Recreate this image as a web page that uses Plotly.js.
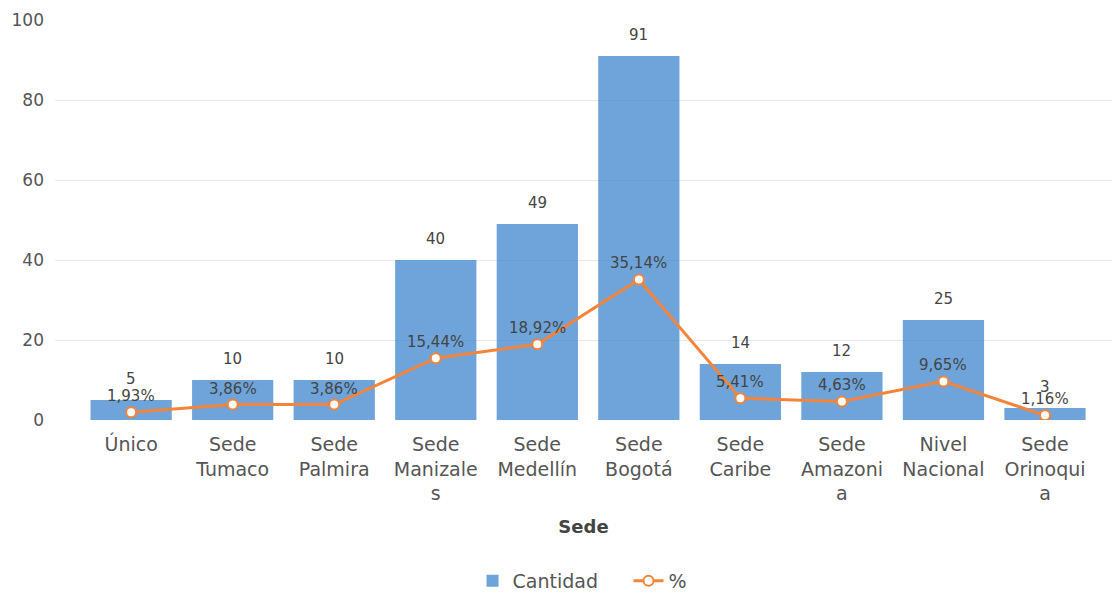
<!DOCTYPE html>
<html>
<head>
<meta charset="utf-8">
<script src="https://cdn.plot.ly/plotly-3.0.1.min.js"></script>
<style>html,body{margin:0;padding:0;background:#fff;}#chart{width:1112px;height:595px;}</style>
</head>
<body>
<div id="chart"></div>
<script>
const categories = ["Único","Sede<br>Tumaco","Sede<br>Palmira","Sede<br>Manizale<br>s","Sede<br>Medellín","Sede<br>Bogotá","Sede<br>Caribe","Sede<br>Amazoni<br>a","Nivel<br>Nacional","Sede<br>Orinoqui<br>a"];
const cantidad = [5, 10, 10, 40, 49, 91, 14, 12, 25, 3];
const porcentaje = [1.93, 3.86, 3.86, 15.44, 18.92, 35.14, 5.41, 4.63, 9.65, 1.16];
const yTicks = [0, 20, 40, 60, 80, 100];

const FONT = "DejaVu Sans, Liberation Sans, Arial, sans-serif";
const fmtPct = v => v.toFixed(2).replace('.', ',') + '%';

const barTrace = {
  type: 'bar', name: 'Cantidad', x: categories, y: cantidad,
  marker: {color: 'rgba(62,134,204,0.75)'},
  hoverinfo: 'skip'
};
const lineTrace = {
  type: 'scatter', mode: 'lines+markers', name: '%', x: categories, y: porcentaje,
  line: {color: '#f5843a', width: 3},
  marker: {size: 10, color: '#ffffff', line: {color: '#f5843a', width: 2}},
  hoverinfo: 'skip'
};

const annotations = [];
categories.forEach((c, i) => {
  annotations.push({x: c, y: cantidad[i], xref: 'x', yref: 'y', text: String(cantidad[i]),
    showarrow: false, yshift: 21.5, font: {family: FONT, size: 15, color: '#444'}});
  annotations.push({x: c, y: porcentaje[i], xref: 'x', yref: 'y', text: fmtPct(porcentaje[i]),
    showarrow: false, yshift: 16, font: {family: FONT, size: 15, color: '#444'}});
});

const layout = {
  width: 1112, height: 595,
  margin: {l: 55, r: 0, t: 20, b: 175, autoexpand: false},
  paper_bgcolor: '#fff', plot_bgcolor: '#fff',
  font: {family: FONT, color: '#555'},
  bargap: 0.2,
  showlegend: true,
  legend: {orientation: 'h', x: 0.5426, xanchor: 'center', y: -0.4025, yanchor: 'middle',
    entrywidth: 111,
    font: {family: FONT, size: 19, color: '#555'}},
  xaxis: {
    type: 'category', range: [-0.75, 9.66],
    showgrid: false, zeroline: false, showline: false, ticks: '', ticklabelstandoff: 11,
    tickfont: {family: FONT, size: 19, color: '#555'},
    title: {text: '<b>Sede</b>', standoff: 16, font: {family: FONT, size: 18, color: '#444'}}
  },
  yaxis: {
    range: [0, 100], tickvals: yTicks, ticktext: yTicks.map(String),
    showgrid: true, gridcolor: '#e8e8e8', gridwidth: 1,
    zeroline: false, showline: false, ticks: '', ticklabelstandoff: 10,
    tickfont: {family: FONT, size: 17, color: '#555'}
  },
  annotations: annotations
};

Plotly.newPlot('chart', [barTrace, lineTrace], layout, {displayModeBar: false, staticPlot: true});
</script>
</body>
</html>
